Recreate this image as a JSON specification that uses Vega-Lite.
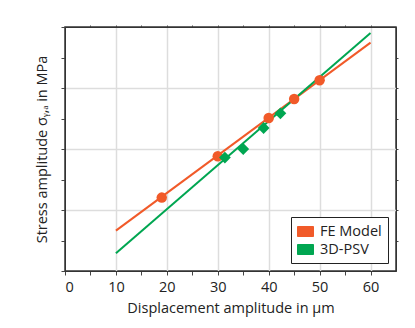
{
  "$schema": "https://vega.github.io/schema/vega-lite/v6.json",
  "width": 331,
  "height": 244,
  "autosize": {"type": "none"},
  "padding": {"left": 65, "top": 27, "right": 19, "bottom": 57},
  "background": "white",
  "config": {
    "font": "Open Sans",
    "view": {"stroke": "#333333", "strokeWidth": 1.5},
    "axis": {"domainColor": "#333333", "tickColor": "#444444", "gridColor": "#dddddd", "gridWidth": 1.5, "labelFont": "Open Sans", "titleFont": "Open Sans", "labelColor": "#222222", "titleColor": "#222222", "titleFontWeight": "normal"},
    "legend": {
      "orient": "bottom-right",
      "offset": 8,
      "padding": 6,
      "strokeColor": "#222222",
      "fillColor": "white",
      "symbolType": "M-1,-0.625H1V0.625H-1Z",
      "symbolSize": 256,
      "symbolStrokeColor": "#222222",
      "symbolStrokeWidth": 1,
      "symbolOpacity": 1,
      "labelFontSize": 14.5,
      "labelFont": "Open Sans",
      "labelColor": "#222222",
      "rowPadding": 2,
      "labelOffset": 6
    }
  },
  "datasets": {
    "lines": [
      {"series": "FE Model", "disp": 10, "stress": 0.662},
      {"series": "FE Model", "disp": 60, "stress": 3.744},
      {"series": "3D-PSV", "disp": 10, "stress": 0.29},
      {"series": "3D-PSV", "disp": 60, "stress": 3.902}
    ],
    "points": [
      {"series": "FE Model", "disp": 19, "stress": 1.203},
      {"series": "FE Model", "disp": 30, "stress": 1.88},
      {"series": "FE Model", "disp": 40, "stress": 2.508},
      {"series": "FE Model", "disp": 45, "stress": 2.82},
      {"series": "FE Model", "disp": 50, "stress": 3.126},
      {"series": "3D-PSV", "disp": 31.4, "stress": 1.859},
      {"series": "3D-PSV", "disp": 35, "stress": 2.0},
      {"series": "3D-PSV", "disp": 39, "stress": 2.344},
      {"series": "3D-PSV", "disp": 42.3, "stress": 2.585}
    ]
  },
  "resolve": {"axis": {"x": "independent", "y": "independent"}},
  "layer": [
    {
      "data": {"name": "lines"},
      "mark": {"type": "line", "strokeWidth": 2},
      "encoding": {
        "x": {
          "field": "disp", "type": "quantitative",
          "scale": {"domain": [0, 65], "nice": false, "zero": false},
          "axis": {
            "orient": "bottom",
            "title": "Displacement amplitude in µm",
            "titleFontSize": 14.5,
            "titlePadding": 8,
            "values": [0, 5, 10, 15, 20, 25, 30, 35, 40, 45, 50, 55, 60],
            "labelExpr": "datum.value % 10 === 0 ? datum.label : ''",
            "labelFontSize": 14.5,
            "labelPadding": 5,
            "tickSize": 4,
            "grid": true,
            "gridOpacity": {"condition": {"test": "datum.value % 10 === 0 && datum.value > 0", "value": 1}, "value": 0}
          }
        },
        "y": {
          "field": "stress", "type": "quantitative",
          "scale": {"domain": [0, 4], "nice": false, "zero": false},
          "axis": {
            "orient": "left",
            "title": "Stress amplitude σᵧ,ₐ in MPa",
            "titleFontSize": 14.5,
            "titlePadding": 11,
            "values": [0, 0.5, 1, 1.5, 2, 2.5, 3, 3.5, 4],
            "labels": false,
            "tickSize": 4,
            "grid": true,
            "gridOpacity": {"condition": {"test": "datum.value % 1 === 0 && datum.value > 0 && datum.value < 4", "value": 1}, "value": 0}
          }
        },
        "color": {
          "field": "series", "type": "nominal",
          "scale": {"domain": ["FE Model", "3D-PSV"], "range": ["#f15a29", "#00a651"]},
          "legend": {"title": null}
        },
        "detail": {"field": "series"}
      }
    },
    {
      "data": {"name": "points"},
      "transform": [{"filter": "datum.series === 'FE Model'"}],
      "mark": {"type": "point", "shape": "circle", "size": 110, "filled": true, "opacity": 1},
      "encoding": {
        "x": {
          "field": "disp", "type": "quantitative",
          "scale": {"domain": [0, 65], "nice": false, "zero": false},
          "axis": {"orient": "top", "title": null, "labels": false, "grid": false, "tickSize": 2, "values": [5, 10, 15, 20, 25, 30, 35, 40, 45, 50, 55, 60]}
        },
        "y": {
          "field": "stress", "type": "quantitative",
          "scale": {"domain": [0, 4], "nice": false, "zero": false},
          "axis": {"orient": "right", "title": null, "labels": false, "grid": false, "tickSize": 2, "values": [0.5, 1, 1.5, 2, 2.5, 3, 3.5]}
        },
        "color": {
          "field": "series", "type": "nominal",
          "scale": {"domain": ["FE Model", "3D-PSV"], "range": ["#f15a29", "#00a651"]},
          "legend": {"title": null}
        }
      }
    },
    {
      "data": {"name": "points"},
      "transform": [{"filter": "datum.series === '3D-PSV'"}],
      "mark": {"type": "point", "shape": "diamond", "size": 140, "filled": true, "opacity": 1},
      "encoding": {
        "x": {
          "field": "disp", "type": "quantitative",
          "scale": {"domain": [0, 65], "nice": false, "zero": false},
          "axis": null
        },
        "y": {
          "field": "stress", "type": "quantitative",
          "scale": {"domain": [0, 4], "nice": false, "zero": false},
          "axis": null
        },
        "color": {
          "field": "series", "type": "nominal",
          "scale": {"domain": ["FE Model", "3D-PSV"], "range": ["#f15a29", "#00a651"]},
          "legend": {"title": null}
        }
      }
    }
  ]
}
